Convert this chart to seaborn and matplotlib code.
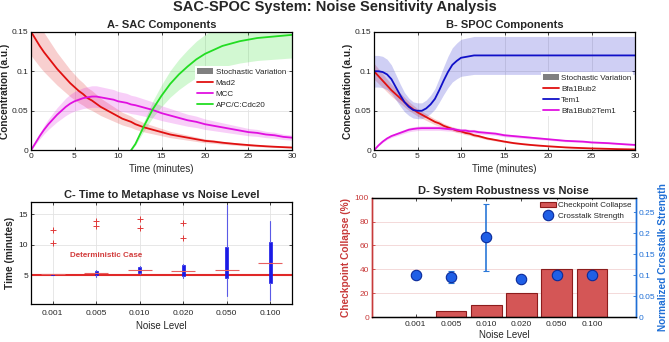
import numpy as np
import pandas as pd
import matplotlib
matplotlib.use("Agg")
import matplotlib.pyplot as plt
import seaborn as sns
from matplotlib.patches import Patch
from matplotlib.lines import Line2D
from matplotlib.ticker import FuncFormatter

sns.set_style("ticks")
plt.rcParams['font.family'] = ['Liberation Sans', 'DejaVu Sans']
plt.rcParams['xtick.direction'] = 'in'
plt.rcParams['ytick.direction'] = 'in'
plt.rcParams['axes.linewidth'] = 0.9
plt.rcParams['axes.edgecolor'] = 'black'

# ---------------- data ----------------
time = [0, 0.5, 1, 1.5, 2, 2.5, 3, 3.5, 4, 4.5, 5, 5.5, 6, 6.5, 7, 7.5, 8, 8.5, 9, 9.5,
        10, 10.5, 11, 11.5, 12, 13, 14, 15, 16, 17, 18, 19, 20, 21, 22, 23, 24, 25, 26,
        27, 28, 29, 30]

# Panel A (SAC)
mad2 = [0.150, 0.141, 0.132, 0.124, 0.117, 0.110, 0.103, 0.097, 0.091, 0.085, 0.080,
        0.075, 0.071, 0.066, 0.063, 0.059, 0.055, 0.052, 0.049, 0.046, 0.043, 0.040,
        0.038, 0.036, 0.033, 0.029, 0.026, 0.023, 0.020, 0.018, 0.016, 0.014, 0.012,
        0.011, 0.0096, 0.0085, 0.0075, 0.0066, 0.0058, 0.0051, 0.0045, 0.0040, 0.0035]
mcc = [0.0, 0.009, 0.018, 0.026, 0.033, 0.039, 0.045, 0.050, 0.055, 0.059, 0.062,
       0.064, 0.066, 0.067, 0.068, 0.068, 0.067, 0.066, 0.065, 0.064, 0.062, 0.061,
       0.060, 0.058, 0.057, 0.054, 0.051, 0.047, 0.044, 0.041, 0.038, 0.036, 0.033,
       0.031, 0.029, 0.027, 0.025, 0.023, 0.022, 0.020, 0.019, 0.017, 0.016]
apc = [np.nan] * 23 + [0.0, 0.008, 0.031, 0.052, 0.069, 0.084, 0.096, 0.106, 0.115,
                       0.122, 0.127, 0.132, 0.135, 0.138, 0.140, 0.142, 0.143, 0.144,
                       0.145, 0.146]

# Panel B (SPOC)
bfa1bub2 = [0.100, 0.094, 0.088, 0.082, 0.076, 0.071, 0.066, 0.061, 0.056, 0.052, 0.048,
            0.045, 0.042, 0.039, 0.036, 0.034, 0.031, 0.029, 0.027, 0.025, 0.024, 0.022,
            0.021, 0.019, 0.018, 0.015, 0.013, 0.011, 0.0092, 0.0079, 0.0068, 0.0059,
            0.0051, 0.0044, 0.0037, 0.0032, 0.0028, 0.0024, 0.0021, 0.0018, 0.0015,
            0.0013, 0.0011]
tem1 = [0.100, 0.100, 0.099, 0.096, 0.090, 0.080, 0.070, 0.061, 0.055, 0.051, 0.050,
        0.050, 0.053, 0.058, 0.065, 0.076, 0.088, 0.099, 0.108, 0.113, 0.117, 0.118,
        0.119, 0.120, 0.120, 0.120, 0.120, 0.120, 0.120, 0.120, 0.120, 0.120, 0.120,
        0.120, 0.120, 0.120, 0.120, 0.120, 0.120, 0.120, 0.120, 0.120, 0.120]
bfa1bub2tem1 = [0.0, 0.006, 0.011, 0.015, 0.018, 0.020, 0.022, 0.024, 0.026, 0.027,
                0.0277, 0.028, 0.028, 0.028, 0.028, 0.028, 0.0275, 0.027, 0.027, 0.026,
                0.025, 0.025, 0.024, 0.024, 0.023, 0.022, 0.021, 0.019, 0.018, 0.017,
                0.016, 0.015, 0.014, 0.013, 0.012, 0.0115, 0.011, 0.010, 0.0095, 0.009,
                0.0082, 0.0075, 0.0068]

# relative spread of stochastic-variation bands
spread_A = [0.2, 0.2, 0.2]
spread_B = [0.1, 0.2, 0.1]

# Panel C
noise_labels = ['0.001', '0.005', '0.010', '0.020', '0.050', '0.100']
c_median = [5.15, 5.38, 5.88, 5.77, 5.9, 7.05]
c_q1 = [5.1, 4.98, 5.45, 4.85, 4.52, 3.8]
c_q3 = [5.2, 5.7, 6.33, 6.7, 9.6, 10.5]
c_whislo = [5.05, 4.75, 5.15, 4.6, 1.6, 0.95]
c_whishi = [5.25, 5.95, 6.55, 6.9, 16.5, 13.95]
c_outliers = [[10.3, 12.45], [13.15, 13.95], [12.7, 14.25], [11.1, 13.55], [], []]
deterministic_time = 5.0

# Panel D
collapse = [0, 5, 10, 20, 40, 40]
crosstalk = [0.100, 0.0955, 0.19, 0.090, 0.100, 0.100]
crosstalk_err = [0.002, 0.015, 0.08, 0.004, 0.003, 0.003]

# ---------------- style ----------------
RED, MAG, GRN, BLU = '#e01010', '#e010e0', '#22dd22', '#1010c8'
TICK_FS, LAB_FS, TITLE_FS, LEG_FS = 6, 7, 8, 5.8
W, H = 669, 342

def box(l, t, r, b):
    return [l / W, 1 - b / H, (r - l) / W, (b - t) / H]

fmt = FuncFormatter(lambda v, p: f'{v:g}')

fig = plt.figure(figsize=(W / 100, H / 100), dpi=100)
fig.text(0.5, 1 - 7.5 / H, 'SAC-SPOC System: Noise Sensitivity Analysis',
         ha='center', va='center', fontsize=10.5, fontweight='bold')


def style_time_axes(ax, title):
    ax.set_xlim(0, 30)
    ax.set_ylim(0, 0.15)
    ax.set_xticks([0, 5, 10, 15, 20, 25, 30])
    ax.set_yticks([0, 0.05, 0.1, 0.15])
    ax.yaxis.set_major_formatter(fmt)
    ax.grid(True, color='#e3e3e3', lw=0.6)
    ax.set_axisbelow(True)
    ax.tick_params(labelsize=TICK_FS, top=True, right=True, length=2.5, width=0.6, pad=2)
    ax.set_xlabel('Time (minutes)', fontsize=LAB_FS, labelpad=3)
    ax.set_ylabel('Concentration (a.u.)', fontsize=7.3, fontweight='bold', labelpad=1)
    ax.set_title(title, fontsize=TITLE_FS, fontweight='bold', pad=3)
    for s in ax.spines.values():
        s.set_visible(True)


def time_panel(ax, names, series, colors, spreads, title):
    df = pd.DataFrame({'Time': time})
    for n, s in zip(names, series):
        df[n] = s
    long = df.melt('Time', var_name='Species', value_name='Conc')
    for n, c, f in zip(names, colors, spreads):
        v = df[n].to_numpy(dtype=float)
        ax.fill_between(df['Time'], v * (1 - f), v * (1 + f), color=c, alpha=0.2, lw=0)
    sns.lineplot(data=long.dropna(), x='Time', y='Conc', hue='Species',
                 palette=dict(zip(names, colors)), hue_order=names, ax=ax,
                 lw=1.3, legend=False, estimator=None, sort=False)
    style_time_axes(ax, title)
    handles = [Patch(facecolor='#808080', edgecolor='none', label='Stochastic Variation')]
    handles += [Line2D([], [], color=c, lw=1.3, label=n) for n, c in zip(names, colors)]
    leg = ax.legend(handles=handles, loc='upper left', bbox_to_anchor=(0.63, 0.71),
                    fontsize=LEG_FS, frameon=True, fancybox=False, borderpad=0.2,
                    handlelength=2.0, handleheight=0.9, handletextpad=0.3,
                    labelspacing=0.35, borderaxespad=0)
    leg.get_frame().set_edgecolor('none')
    leg.get_frame().set_facecolor('white')
    leg.get_frame().set_alpha(1)


axA = fig.add_axes(box(31, 31.7, 292, 150.3))
time_panel(axA, ['Mad2', 'MCC', 'APC/C:Cdc20'], [mad2, mcc, apc], [RED, MAG, GRN],
           spread_A, 'A- SAC Components')

axB = fig.add_axes(box(374, 31.7, 635, 150.3))
time_panel(axB, ['Bfa1Bub2', 'Tem1', 'Bfa1Bub2Tem1'], [bfa1bub2, tem1, bfa1bub2tem1],
           [RED, BLU, MAG], spread_B, 'B- SPOC Components')
axB.get_legend().set_bbox_to_anchor((0.64, 0.66))

# ---------------- Panel C ----------------
axC = fig.add_axes(box(31, 201.7, 292, 304.3))
positions = list(range(1, len(noise_labels) + 1))
stats = [dict(med=m, q1=a, q3=b, whislo=lo, whishi=hi, fliers=f)
         for m, a, b, lo, hi, f in zip(c_median, c_q1, c_q3, c_whislo, c_whishi, c_outliers)]
axC.axhline(deterministic_time, color='#e02828', lw=1.5, zorder=1)
axC.bxp(stats, positions=positions, widths=0.08, patch_artist=True, showcaps=False,
        boxprops=dict(facecolor='#1a1ae6', edgecolor='#1a1ae6', lw=0.5),
        whiskerprops=dict(color='#5a5ae6', lw=0.8),
        medianprops=dict(color='none'),
        flierprops=dict(marker='+', markeredgecolor='#e03a3a', markersize=5,
                        markeredgewidth=0.7, linestyle='none'), manage_ticks=False)
axC.hlines(c_median, np.array(positions) - 0.28, np.array(positions) + 0.28,
           color='#e86060', lw=0.8, zorder=3)
axC.text(1.4, 8.25, 'Deterministic Case', color='#d23c3c', fontsize=5.8,
         fontweight='bold', ha='left', va='center')
axC.set_xlim(0.5, 6.5)
axC.set_ylim(0.25, 17.1)
axC.set_xticks(positions)
axC.set_xticklabels(noise_labels)
axC.set_yticks([5, 10, 15])
axC.grid(True, color='#e3e3e3', lw=0.6)
axC.set_axisbelow(True)
axC.tick_params(labelsize=TICK_FS, top=True, right=True, length=2.5, width=0.6, pad=2)
axC.tick_params(axis='x', pad=4)
axC.set_xlabel('Noise Level', fontsize=LAB_FS, labelpad=3)
axC.set_ylabel('Time (minutes)', fontsize=7.3, fontweight='bold', labelpad=3)
axC.set_title('C- Time to Metaphase vs Noise Level', fontsize=TITLE_FS,
              fontweight='bold', pad=3)

# ---------------- Panel D ----------------
LRED, RBLU = '#c83a3a', '#1f6fd6'
axD = fig.add_axes(box(371.7, 197.7, 636, 317))
dfD = pd.DataFrame({'Noise': noise_labels, 'Collapse': collapse})
sns.barplot(data=dfD, x='Noise', y='Collapse', color='#d45656', saturation=1,
            edgecolor='#8c1c1c', linewidth=0.8, width=0.87, ax=axD)
axD.set_xlim(-1.25, 6.25)
axD.set_ylim(0, 100)
axD.set_yticks([0, 20, 40, 60, 80, 100])
axD.yaxis.grid(True, color='#f3d3d3', lw=0.6)
axD.set_axisbelow(True)
axD.tick_params(axis='y', colors=LRED, labelsize=TICK_FS, length=2.5, width=0.6, pad=2)
axD.tick_params(axis='x', labelsize=TICK_FS, top=True, length=2.5, width=0.6, pad=3)
axD.set_xlabel('Noise Level', fontsize=LAB_FS, labelpad=1)
axD.set_ylabel('Checkpoint Collapse (%)', fontsize=7.3, fontweight='bold', color=LRED,
               labelpad=3)
axD.set_title('D- System Robustness vs Noise', fontsize=TITLE_FS, fontweight='bold', pad=3)

axD2 = axD.twinx()
eb = axD2.errorbar(range(len(crosstalk)), crosstalk, yerr=crosstalk_err, fmt='o', ms=7.5,
                   mfc='#1f5fe6', mec='#0a2a9a', mew=0.8, ecolor='#2a78d8',
                   elinewidth=1.2, capsize=2, capthick=1.0, label='Crosstalk Strength')
axD2.set_ylim(0, 0.285)
axD2.set_yticks([0, 0.05, 0.1, 0.15, 0.2, 0.25])
axD2.yaxis.set_major_formatter(fmt)
axD2.tick_params(axis='y', colors=RBLU, labelsize=TICK_FS, length=2.5, width=0.6, pad=2)
axD2.set_ylabel('Normalized Crosstalk Strength', fontsize=7.3, fontweight='bold',
                color=RBLU, labelpad=2)
for a in (axD, axD2):
    for s in a.spines.values():
        s.set_visible(True)
    a.spines['left'].set_color(LRED)
    a.spines['right'].set_color(RBLU)
    a.spines['top'].set_color('black')
    a.spines['bottom'].set_color('black')
    a.spines['left'].set_linewidth(1.0)
    a.spines['right'].set_linewidth(1.0)

handles = [Patch(facecolor='#d45656', edgecolor='#8c1c1c', lw=0.8, label='Checkpoint Collapse'), eb]
leg = axD2.legend(handles=handles, labels=['Checkpoint Collapse', 'Crosstalk Strength'],
                  loc='upper right', fontsize=LEG_FS, frameon=True, fancybox=False,
                  borderpad=0.2, handlelength=2.0, handletextpad=0.3, labelspacing=0.35,
                  borderaxespad=0.3)
leg.get_frame().set_edgecolor('none')
leg.get_frame().set_facecolor('white')

fig.savefig('out.png', dpi=100)
